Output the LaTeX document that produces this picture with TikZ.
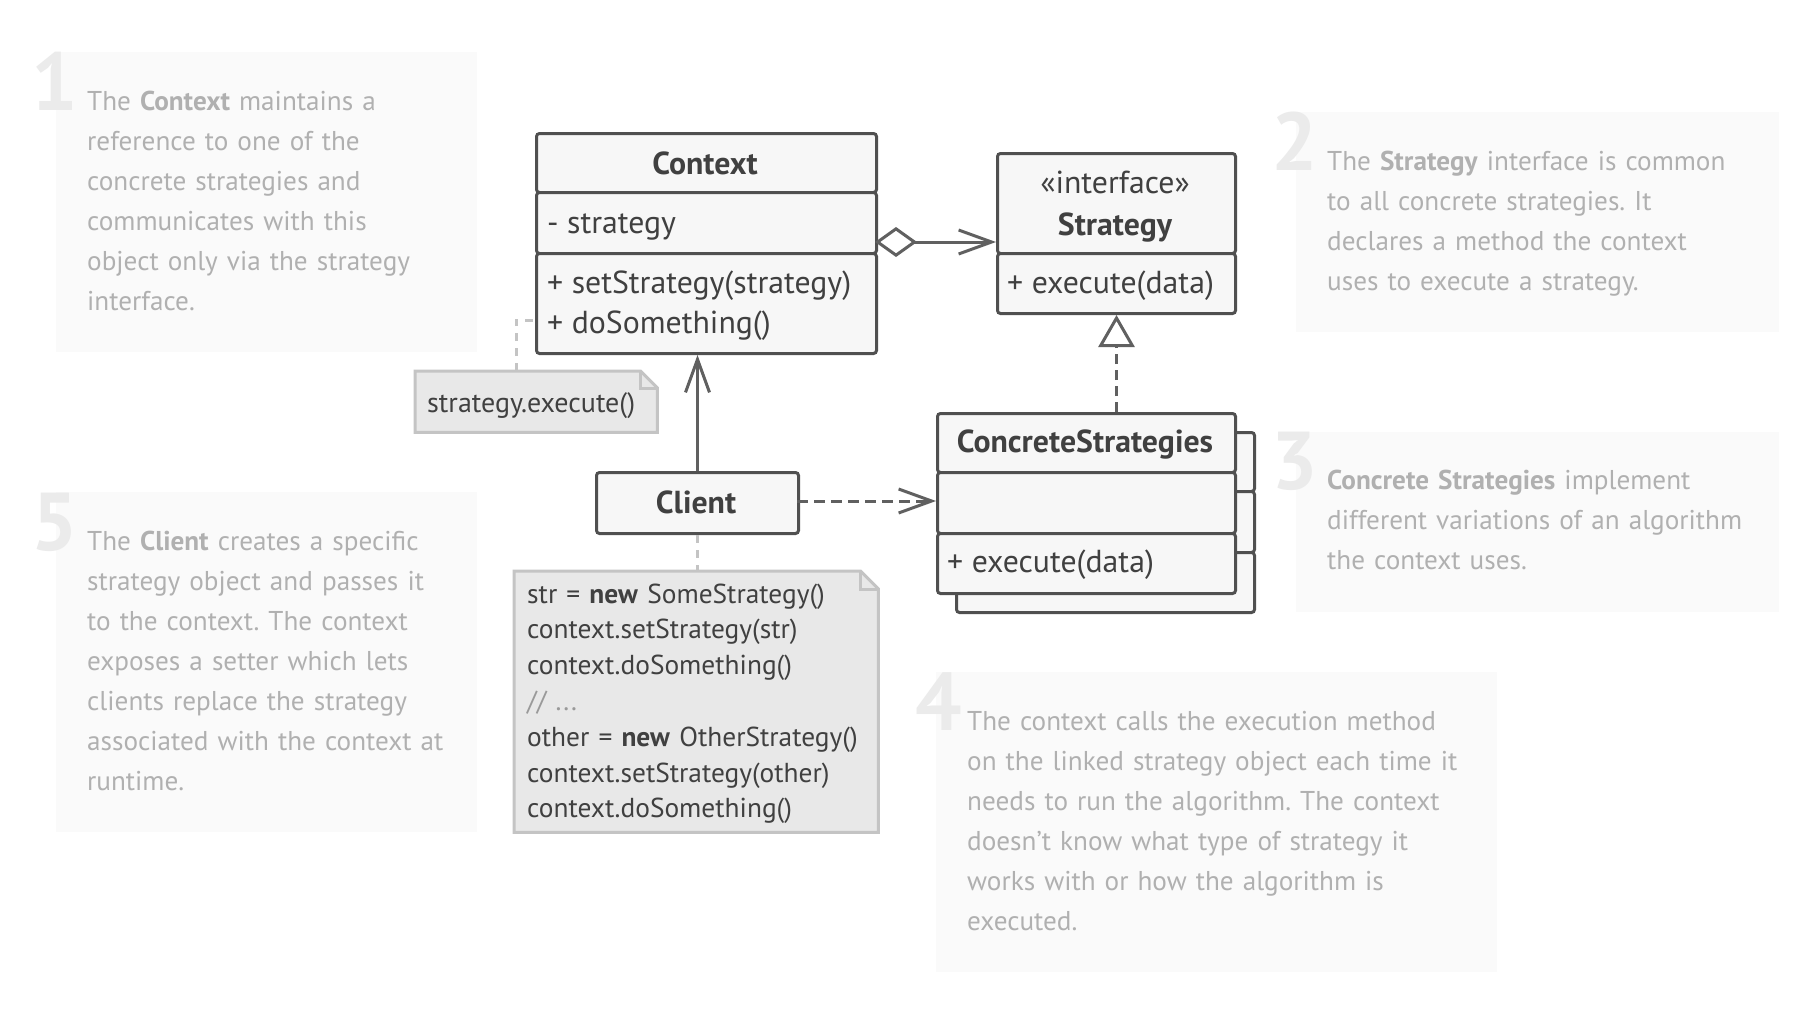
\documentclass[tikz,border=0pt]{standalone}
\usepackage{fontspec}
\setmainfont{PT Sans}
\usetikzlibrary{arrows.meta,calc}
\frenchspacing
\definecolor{notebg}{HTML}{FAFAFA}
\definecolor{notetxt}{HTML}{B0B0B0}
\definecolor{digitc}{HTML}{EBEBEB}
\definecolor{boxline}{HTML}{505050}
\definecolor{boxfill}{HTML}{F7F7F7}
\definecolor{boxtext}{HTML}{404040}
\definecolor{connc}{HTML}{606060}
\definecolor{memofill}{HTML}{E8E8E8}
\definecolor{memoline}{HTML}{C4C4C4}
\definecolor{codegray}{HTML}{9A9A9A}
\begin{document}
\begin{tikzpicture}[x=1pt,y=-1pt,
  comp/.style={draw=boxline, fill=boxfill, line width=3pt, rounded corners=3pt, inner sep=0pt, anchor=north west},
  boxtxt/.style={inner sep=0pt, text=boxtext, font=\fontsize{31.8}{40}\selectfont},
  boxbold/.style={boxtxt, font=\fontsize{31.8}{40}\selectfont\bfseries},
  notearea/.style={fill=notebg, inner sep=0pt, anchor=north west},
  notetext/.style={anchor=base west, inner sep=0pt, align=left, text width=640pt, text=notetxt, font=\fontsize{27.2}{40}\selectfont},
  digit/.style={anchor=base east, inner sep=0pt, text=digitc, font=\fontsize{82}{82}\selectfont\bfseries},
  memo/.style={draw=memoline, fill=memofill, line width=3pt, line join=miter},
  memolink/.style={draw=memoline, line width=3pt, dash pattern=on 8pt off 7pt},
  conn/.style={draw=connc, line width=3pt},
  barb/.style={-{Straight Barb[length=33pt,width=24pt]}},
  dashconn/.style={conn, dash pattern=on 11pt off 6pt}
]
\fill[white] (0,0) rectangle (1812,1010);
\useasboundingbox (0,0) rectangle (1812,1010);

% ---------- explanatory notes ----------
\node[notearea, minimum width=421pt, minimum height=300pt] (bg1) at (56,52) {};
\node[digit] (d1) at (78,110) {1};
\node[notetext] (t1) at (87,110) {The \textbf{Context} maintains a\\reference to one of the\\concrete strategies and\\communicates with this\\object only via the strategy\\interface.};

\node[notearea, minimum width=483pt, minimum height=220pt] (bg2) at (1296,112) {};
\node[digit] (d2) at (1318,170) {2};
\node[notetext] (t2) at (1327,170) {The \textbf{Strategy} interface is common\\to all concrete strategies. It\\declares a method the context\\uses to execute a strategy.};

\node[notearea, minimum width=483pt, minimum height=180pt] (bg3) at (1296,432) {};
\node[digit] (d3) at (1318,489) {3};
\node[notetext] (t3) at (1327,489) {\textbf{Concrete Strategies} implement\\different variations of an algorithm\\the context uses.};

\node[notearea, minimum width=561pt, minimum height=300pt] (bg4) at (936,672) {};
\node[digit] (d4) at (962,730) {4};
\node[notetext] (t4) at (967,730) {The context calls the execution method\\on the linked strategy object each time it\\needs to run the algorithm. The context\\doesn’t know what type of strategy it\\works with or how the algorithm is\\executed.};

\node[notearea, minimum width=421pt, minimum height=340pt] (bg5) at (56,492) {};
\node[digit] (d5) at (78,550) {5};
\node[notetext] (t5) at (87,550) {The \textbf{Client} creates a specific\\strategy object and passes it\\to the context. The context\\exposes a setter which lets\\clients replace the strategy\\associated with the context at\\runtime.};

% ---------- Context ----------
\node[comp, minimum width=340pt, minimum height=59pt] (ctxh) at (535,132) {};
\node[comp, minimum width=340pt, minimum height=61pt] (ctxa) at (535,191) {};
\node[comp, minimum width=340pt, minimum height=100pt] (ctxm) at (535,252) {};
\node[boxbold, anchor=base] (ctxt) at (705,174) {Context};
\node[boxtxt, anchor=base west] (ctxat) at (547,233) {- strategy};
\node[boxtxt, anchor=base west] (ctxm1) at (547,293) {+ setStrategy(strategy)};
\node[boxtxt, anchor=base west] (ctxm2) at (547,333) {+ doSomething()};

% ---------- Strategy ----------
\node[comp, minimum width=238pt, minimum height=100pt] (strh) at (996,152) {};
\node[comp, minimum width=238pt, minimum height=60pt] (strm) at (996,252) {};
\node[boxtxt, anchor=base] (strst) at (1115,193) {«interface»};
\node[boxbold, anchor=base] (strt) at (1115,235) {Strategy};
\node[boxtxt, anchor=base west] (strmt) at (1007,293) {+ execute(data)};

% ---------- ConcreteStrategies (with shadow copy) ----------
\node[comp, minimum width=298pt, minimum height=59pt] (shh) at (955,431) {};
\node[comp, minimum width=298pt, minimum height=61pt] (sha) at (955,490) {};
\node[comp, minimum width=298pt, minimum height=60pt] (shm) at (955,551) {};
\node[comp, minimum width=298pt, minimum height=59pt] (csh) at (936,412) {};
\node[comp, minimum width=298pt, minimum height=61pt] (csa) at (936,471) {};
\node[comp, minimum width=298pt, minimum height=60pt] (csm) at (936,532) {};
\node[boxbold, anchor=base] (cst) at (1085,452) {ConcreteStrategies};
\node[boxtxt, anchor=base west] (csmt) at (947,572) {+ execute(data)};

% ---------- Client ----------
\node[comp, minimum width=202pt, minimum height=61pt] (cli) at (595,471) {};
\node[boxbold, anchor=base] (clit) at (696,513) {Client};

% ---------- memo: strategy.execute() ----------
\node[inner sep=0pt, minimum width=242pt, minimum height=61pt, anchor=north west] (memo1) at (415,371) {};
\draw[memo] (memo1.north west) -- ($(memo1.north east)+(-17,0)$) -- ($(memo1.north east)+(0,17)$) -- (memo1.south east) -- (memo1.south west) -- cycle;
\draw[memo, fill=none] ($(memo1.north east)+(-17,0)$) -- ($(memo1.north east)+(-17,17)$) -- ($(memo1.north east)+(0,17)$);
\node[boxtxt, anchor=base west, font=\fontsize{28}{36}\selectfont] (memo1t) at (427,412) {strategy.execute()};

% ---------- memo: client code ----------
\node[inner sep=0pt, minimum width=364pt, minimum height=261pt, anchor=north west] (memo2) at (514,571) {};
\draw[memo] (memo2.north west) -- ($(memo2.north east)+(-18,0)$) -- ($(memo2.north east)+(0,18)$) -- (memo2.south east) -- (memo2.south west) -- cycle;
\draw[memo, fill=none] ($(memo2.north east)+(-18,0)$) -- ($(memo2.north east)+(-18,18)$) -- ($(memo2.north east)+(0,18)$);
\node[boxtxt, anchor=base west, align=left, text width=340pt, font=\fontsize{27.4}{35.8}\selectfont] (memo2t) at (527,603) {str = \textbf{new} SomeStrategy()\\context.setStrategy(str)\\context.doSomething()\\{\color{codegray}// ...}\\other = \textbf{new} OtherStrategy()\\context.setStrategy(other)\\context.doSomething()};

% ---------- memo links ----------
\coordinate (m1top) at (516,371);
\coordinate (m1bend) at (516,320);
\draw[memolink] (m1top) -- (m1bend) -- (m1bend -| ctxm.west);
\draw[memolink] (cli.south) -- (cli.south |- memo2.north);

% ---------- relations ----------
\coordinate (agg) at (875,242);
\draw[conn, {Diamond[open,length=42pt,width=30pt]}-{Straight Barb[length=33pt,width=24pt]}] (agg) -- (agg -| strh.west);
\draw[conn, barb] (cli.north) -- (cli.north |- ctxm.south);
\coordinate (cliE) at (797,501);
\draw[dashconn, barb] (cliE) -- (cliE -| csa.west);
\draw[conn, dash pattern=on 10pt off 6pt, -{Triangle[open,length=32pt,width=36pt]}] (csh.north -| strm.south) -- (strm.south);
\end{tikzpicture}
\end{document}
